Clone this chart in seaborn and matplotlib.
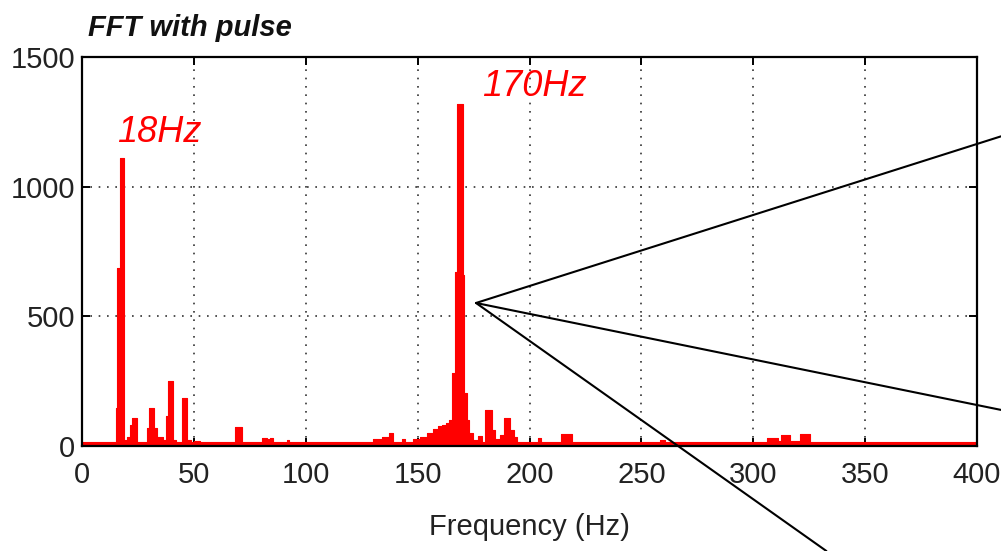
import matplotlib
matplotlib.use("Agg")
import matplotlib.pyplot as plt
import seaborn as sns
import pandas as pd

# ---- data (step segments: start frequency in Hz, amplitude level) ----
freq_hz = [0, 15.2, 15.8, 17.0, 18.9, 20.0, 21.3, 22.2, 24.4, 29.0, 30.0, 32.2,
           33.4, 36.0, 37.5, 38.6, 40.8, 42.0, 44.5, 47.0, 48.5, 50.0, 52.7,
           68.4, 71.4, 80.3, 82.5, 84.0, 85.5, 91.5, 92.5, 130.2, 134.0, 137.4,
           139.2, 143.0, 144.4, 148.0, 151.0, 154.0, 157.0, 159.0, 161.0, 162.6,
           164.0, 165.5, 166.7, 167.5, 170.1, 170.7, 172.2, 173.1, 174.9, 177.2,
           178.6, 180.1, 183.1, 184.6, 187.0, 188.7, 191.2, 193.0, 194.5, 204.0,
           205.0, 214.0, 219.0, 258.5, 260.5, 306.0, 311.0, 312.5, 316.5, 321.0,
           325.5, 400.0]
amplitude = [14, 145, 685, 1110, 23, 36, 81, 109, 14, 68, 148, 68,
             36, 23, 116, 252, 23, 14, 184, 23, 14, 20, 14,
             72, 14, 32, 26, 32, 14, 23, 14, 26, 33, 51,
             17, 26, 14, 26, 36, 49, 64, 77, 80, 87,
             100, 280, 672, 1319, 660, 203, 100, 50, 23, 40,
             15, 137, 60, 28, 43, 109, 62, 36, 14, 30,
             14, 48, 14, 25, 14, 30, 20, 42, 20, 48,
             14, 14]

x_ticks = [0, 50, 100, 150, 200, 250, 300, 350, 400]
y_ticks = [0, 500, 1000, 1500]
peak_labels = ["18Hz", "170Hz"]
peak_label_x = [15.6, 178.8]
peak_label_y = [1172, 1350]

# zoom-callout lines (apex and far ends, data units)
callout_apex = (176.1, 551.5)
callout_ends_x = [410.7, 410.7, 332.7]
callout_ends_y = [1194, 139.2, -405]

title = "FFT with pulse"
xlabel = "Frequency (Hz)"

# ---- plotting ----
sns.set_theme(style="white")
plt.rcParams["font.family"] = ["Liberation Sans", "DejaVu Sans"]

fig = plt.figure(figsize=(10.01, 5.51), dpi=100)
ax = fig.add_axes([82 / 1001, 1 - 446 / 551, (977 - 82) / 1001, (446 - 57) / 551])

df = pd.DataFrame({"freq": freq_hz, "amp": amplitude})
ax.fill_between(df["freq"], 0, df["amp"], step="post", color="#ff0000",
                linewidth=0, zorder=2)
sns.lineplot(data=df, x="freq", y="amp", ax=ax, color="#ff0000",
             linewidth=0.8, drawstyle="steps-post", zorder=3)

ax.set_xlim(0, 400)
ax.set_ylim(0, 1500)
ax.set_xticks(x_ticks)
ax.set_yticks(y_ticks)
ax.set_xticklabels([str(v) for v in x_ticks])
ax.set_yticklabels([str(v) for v in y_ticks])

ax.grid(True, color="#333333", linestyle=(0, (1, 4)), linewidth=1.2)
for s in ax.spines.values():
    s.set_color("black")
    s.set_linewidth(1.6)
    s.set_zorder(5)

ax.tick_params(axis="both", which="major", direction="in", length=6, width=1.4,
               top=True, right=True, bottom=True, left=True,
               labelsize=21, colors="black", labelcolor="#222222")
ax.tick_params(axis="x", pad=11)
ax.tick_params(axis="y", pad=5)

ax.set_xlabel(xlabel, fontsize=21, color="#222222", labelpad=17)
ax.set_ylabel("")

for lab, lx, ly in zip(peak_labels, peak_label_x, peak_label_y):
    ax.text(lx, ly, lab, color="#ff0000", fontsize=26, style="italic",
            ha="left", va="baseline", zorder=6)

fig.text(88 / 1001, 1 - 36 / 551, title, fontsize=21, fontweight="bold",
         style="italic", ha="left", va="baseline", color="#111111")

for ex, ey in zip(callout_ends_x, callout_ends_y):
    ax.plot([callout_apex[0], ex], [callout_apex[1], ey], color="black",
            linewidth=1.5, clip_on=False, zorder=7)

ax.set_facecolor("white")
fig.patch.set_facecolor("white")
fig.savefig("out.png", dpi=100)
